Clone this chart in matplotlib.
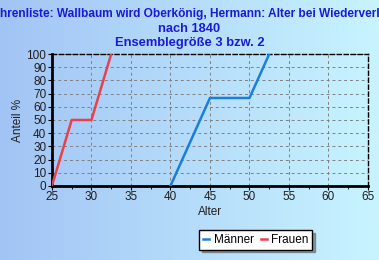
import numpy as np
import matplotlib
matplotlib.use('Agg')
import matplotlib.pyplot as plt
from matplotlib.ticker import MultipleLocator

plt.rcParams['font.family'] = ['Liberation Sans', 'DejaVu Sans']

# data
maenner_alter = [40, 45, 50, 52.5]
maenner_anteil = [0, 66.7, 66.7, 100]
frauen_alter = [25, 27.5, 30, 32.5]
frauen_anteil = [0, 50, 50, 100]

TITLE1 = 'Ehrenliste: Wallbaum wird Oberkönig, Hermann: Alter bei Wiederverheiratung'
TITLE2 = 'nach 1840\nEnsemblegröße 3 bzw. 2'
BLUE_TXT = '#1a1ad6'

fig = plt.figure(figsize=(3.79, 2.60), dpi=100)

# background gradient
bg = fig.add_axes([0, 0, 1, 1], zorder=-10)
grad = np.linspace(0, 1, 256).reshape(1, -1)
cmap = matplotlib.colors.LinearSegmentedColormap.from_list('bg', ['#a2c4f5', '#c8f4ff'])
bg.imshow(grad, aspect='auto', cmap=cmap, extent=[0, 1, 0, 1])
bg.axis('off')

ax = fig.add_axes([0.137, 0.285, 0.834, 0.507])
ax.patch.set_alpha(0)

ax.plot(maenner_alter, maenner_anteil, color='#1a7fdc', lw=1.8, label='Männer', zorder=3)
ax.plot(frauen_alter, frauen_anteil, color='#e8404c', lw=1.8, label='Frauen', zorder=3)

ax.set_xlim(25, 65)
ax.set_ylim(0, 100)
ax.xaxis.set_major_locator(MultipleLocator(5))
ax.xaxis.set_minor_locator(MultipleLocator(2.5))
ax.yaxis.set_major_locator(MultipleLocator(10))
ax.grid(True, which='major', color='#808080', ls=(0, (3, 3)), lw=0.7)
ax.tick_params(labelsize=8.5, length=3, colors='black', pad=1)
ax.tick_params(which='minor', length=2)
for lab in ax.get_xticklabels() + ax.get_yticklabels():
    lab.set_color('#202020')

for s in ['left', 'bottom']:
    ax.spines[s].set_linewidth(2)
for s in ['top', 'right']:
    ax.spines[s].set_linestyle((0, (3, 2)))
    ax.spines[s].set_linewidth(1)

ax.set_xlabel('Alter', fontsize=8.5, labelpad=2, color='#202020')
ax.set_ylabel('Anteil %', fontsize=8.5, labelpad=2, color='#202020')

fig.text(-0.021, 1 - 14.5 / 260, TITLE1, ha='left', va='center', fontsize=8.6,
         fontweight='bold', color=BLUE_TXT)
fig.text(0.5, 1 - 36 / 260, TITLE2, ha='center', va='center', fontsize=9.3,
         fontweight='bold', color=BLUE_TXT, linespacing=1.2)

leg = fig.legend(loc='center', bbox_to_anchor=(0.675, 0.077), ncol=2, fontsize=8.5,
                 frameon=True, fancybox=False, shadow=True, handlelength=0.5,
                 handletextpad=0.4, columnspacing=0.6, borderpad=0.3)
leg.get_frame().set_edgecolor('black')
leg.get_frame().set_facecolor('white')

fig.savefig('out.png', dpi=100)
